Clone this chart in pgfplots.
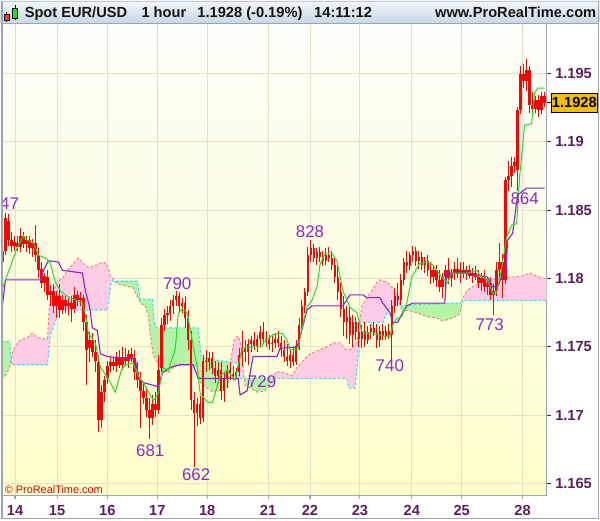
\documentclass[border=0pt]{standalone}
\usepackage{fontspec}
\setmainfont{Liberation Sans}
\usepackage{pgfplots}
\usepackage{pgfplotstable}
\pgfplotsset{compat=1.18}

\definecolor{HdrTop}{HTML}{F2F6FA}
\definecolor{HdrBot}{HTML}{C8D8E6}
\definecolor{HdrTxt}{HTML}{141414}
\definecolor{BgTop}{HTML}{FEFEFA}
\definecolor{BgBot}{HTML}{FFFFCC}
\definecolor{GridC}{HTML}{E2E2C6}
\definecolor{FrameC}{HTML}{9AA6B2}
\definecolor{LabC}{HTML}{5B1F5E}
\definecolor{CandleR}{HTML}{FF0000}
\definecolor{TenkanG}{HTML}{22DD22}
\definecolor{KijunP}{HTML}{9420CC}
\definecolor{CloudP}{HTML}{FFCCE6}
\definecolor{CloudG}{HTML}{B2F5A6}
\definecolor{SpanAC}{HTML}{F08A80}
\definecolor{SpanBC}{HTML}{33DDFF}
\definecolor{SwingC}{HTML}{8A2BD0}
\definecolor{PriceY}{HTML}{F5C000}
\definecolor{CopyR}{HTML}{E00000}

% hourly candles: x = bar position, o h l c
\pgfplotstableread{
x o h l c
2 1.1812 1.1822 1.1806 1.1820
5 1.1820 1.1848 1.1817 1.1844
8 1.1842 1.1847 1.1824 1.1828
11 1.1828 1.1834 1.1819 1.1824
14 1.1824 1.1831 1.1820 1.1827
17 1.1826 1.1831 1.1820 1.1823
20 1.1823 1.1837 1.1819 1.1831
23 1.1831 1.1834 1.1822 1.1825
26 1.1825 1.1831 1.1819 1.1828
29 1.1828 1.1831 1.1818 1.1822
32 1.1822 1.1829 1.1816 1.1826
35 1.1826 1.1839 1.1812 1.1817
38 1.1817 1.1822 1.1800 1.1806
41 1.1807 1.1812 1.1793 1.1797
44 1.1797 1.1804 1.1790 1.1802
47 1.1801 1.1806 1.1784 1.1788
50 1.1788 1.1795 1.1780 1.1791
53 1.1791 1.1796 1.1775 1.1780
56 1.1780 1.1791 1.1771 1.1787
59 1.1787 1.1796 1.1771 1.1777
62 1.1777 1.1788 1.1774 1.1784
65 1.1784 1.1787 1.1775 1.1780
68 1.1780 1.1786 1.1773 1.1782
71 1.1782 1.1787 1.1768 1.1778
74 1.1778 1.1794 1.1775 1.1788
77 1.1788 1.1791 1.1780 1.1784
80 1.1784 1.1790 1.1780 1.1786
83 1.1786 1.1788 1.1762 1.1768
86 1.1768 1.1773 1.1722 1.1748
89 1.1749 1.1761 1.1739 1.1755
92 1.1755 1.1760 1.1743 1.1746
95 1.1746 1.1755 1.1732 1.1740
98 1.1739 1.1744 1.1688 1.1697
101 1.1697 1.1722 1.1691 1.1717
104 1.1717 1.1729 1.1710 1.1726
107 1.1727 1.1740 1.1723 1.1736
110 1.1736 1.1743 1.1732 1.1739
113 1.1739 1.1743 1.1733 1.1736
116 1.1736 1.1746 1.1732 1.1742
119 1.1742 1.1748 1.1735 1.1737
122 1.1737 1.1750 1.1733 1.1743
125 1.1743 1.1749 1.1736 1.1740
128 1.1740 1.1748 1.1735 1.1745
131 1.1745 1.1749 1.1739 1.1742
134 1.1742 1.1748 1.1726 1.1732
137 1.1732 1.1739 1.1720 1.1726
140 1.1726 1.1732 1.1691 1.1718
143 1.1718 1.1724 1.1708 1.1713
146 1.1713 1.1721 1.1699 1.1704
149 1.1704 1.1713 1.1683 1.1698
152 1.1698 1.1715 1.1693 1.1708
155 1.1708 1.1717 1.1699 1.1704
158 1.1704 1.1744 1.1701 1.1733
161 1.1735 1.1771 1.1732 1.1766
164 1.1766 1.1778 1.1762 1.1773
167 1.1773 1.1780 1.1767 1.1775
170 1.1775 1.1784 1.1769 1.1780
173 1.1780 1.1788 1.1774 1.1784
176 1.1784 1.1791 1.1780 1.1787
179 1.1787 1.1790 1.1775 1.1780
182 1.1780 1.1786 1.1775 1.1782
185 1.1782 1.1787 1.1764 1.1771
188 1.1771 1.1777 1.1748 1.1755
191 1.1755 1.1762 1.1704 1.1711
194 1.1711 1.1717 1.1662 1.1702
197 1.1702 1.1713 1.1692 1.1708
200 1.1708 1.1714 1.1694 1.1698
203 1.1698 1.1744 1.1695 1.1740
206 1.1740 1.1748 1.1732 1.1739
209 1.1739 1.1746 1.1733 1.1742
212 1.1742 1.1746 1.1730 1.1735
215 1.1735 1.1740 1.1724 1.1729
218 1.1729 1.1739 1.1723 1.1733
221 1.1733 1.1739 1.1711 1.1718
224 1.1718 1.1732 1.1710 1.1727
227 1.1727 1.1737 1.1720 1.1733
230 1.1733 1.1739 1.1726 1.1730
233 1.1730 1.1736 1.1726 1.1729
236 1.1729 1.1735 1.1727 1.1732
239 1.1732 1.1749 1.1729 1.1744
242 1.1744 1.1762 1.1736 1.1749
245 1.1749 1.1755 1.1739 1.1746
248 1.1746 1.1756 1.1737 1.1752
251 1.1752 1.1758 1.1746 1.1755
254 1.1755 1.1761 1.1748 1.1751
257 1.1751 1.1759 1.1746 1.1756
260 1.1756 1.1765 1.1750 1.1761
263 1.1761 1.1768 1.1752 1.1756
266 1.1756 1.1762 1.1750 1.1755
269 1.1755 1.1759 1.1748 1.1752
272 1.1752 1.1758 1.1746 1.1753
275 1.1753 1.1760 1.1749 1.1756
278 1.1756 1.1762 1.1750 1.1753
281 1.1753 1.1758 1.1743 1.1748
284 1.1748 1.1755 1.1739 1.1743
287 1.1743 1.1752 1.1736 1.1740
290 1.1740 1.1748 1.1735 1.1744
293 1.1744 1.1749 1.1736 1.1739
296 1.1739 1.1755 1.1737 1.1751
299 1.1751 1.1771 1.1748 1.1766
302 1.1766 1.1784 1.1762 1.1780
305 1.1780 1.1793 1.1775 1.1790
308 1.1790 1.1823 1.1787 1.1817
311 1.1817 1.1828 1.1812 1.1822
314 1.1822 1.1825 1.1812 1.1815
317 1.1815 1.1822 1.1810 1.1819
320 1.1819 1.1823 1.1812 1.1816
323 1.1816 1.1820 1.1809 1.1813
326 1.1813 1.1822 1.1810 1.1817
329 1.1817 1.1823 1.1812 1.1815
332 1.1815 1.1820 1.1806 1.1810
335 1.1810 1.1816 1.1797 1.1801
338 1.1801 1.1809 1.1784 1.1790
341 1.1790 1.1797 1.1772 1.1778
344 1.1778 1.1787 1.1758 1.1768
347 1.1768 1.1780 1.1756 1.1772
350 1.1772 1.1780 1.1752 1.1759
353 1.1759 1.1773 1.1750 1.1768
356 1.1768 1.1772 1.1755 1.1761
359 1.1761 1.1768 1.1750 1.1756
362 1.1756 1.1766 1.1749 1.1762
365 1.1762 1.1768 1.1750 1.1755
368 1.1755 1.1765 1.1752 1.1761
371 1.1761 1.1767 1.1756 1.1764
374 1.1764 1.1768 1.1758 1.1760
377 1.1760 1.1767 1.1749 1.1755
380 1.1755 1.1765 1.1750 1.1762
383 1.1762 1.1767 1.1755 1.1758
386 1.1758 1.1765 1.1755 1.1762
389 1.1762 1.1767 1.1756 1.1759
392 1.1759 1.1784 1.1740 1.1780
395 1.1780 1.1793 1.1775 1.1787
398 1.1787 1.1797 1.1780 1.1784
401 1.1784 1.1803 1.1781 1.1799
404 1.1799 1.1815 1.1795 1.1812
407 1.1812 1.1820 1.1804 1.1809
410 1.1809 1.1819 1.1806 1.1817
413 1.1817 1.1824 1.1812 1.1820
416 1.1820 1.1823 1.1809 1.1813
419 1.1813 1.1820 1.1807 1.1816
422 1.1816 1.1819 1.1806 1.1810
425 1.1810 1.1816 1.1804 1.1813
428 1.1813 1.1817 1.1802 1.1806
431 1.1806 1.1812 1.1796 1.1801
434 1.1801 1.1809 1.1797 1.1806
437 1.1806 1.1810 1.1794 1.1799
440 1.1799 1.1806 1.1790 1.1794
443 1.1794 1.1804 1.1786 1.1801
446 1.1801 1.1810 1.1791 1.1806
449 1.1806 1.1815 1.1796 1.1800
452 1.1800 1.1807 1.1794 1.1804
455 1.1804 1.1812 1.1799 1.1807
458 1.1807 1.1815 1.1800 1.1803
461 1.1803 1.1812 1.1797 1.1806
464 1.1806 1.1812 1.1800 1.1803
467 1.1803 1.1809 1.1799 1.1806
470 1.1806 1.1810 1.1800 1.1802
473 1.1802 1.1808 1.1797 1.1804
476 1.1804 1.1809 1.1799 1.1801
479 1.1801 1.1806 1.1793 1.1797
482 1.1797 1.1804 1.1791 1.1800
485 1.1800 1.1806 1.1790 1.1794
488 1.1794 1.1801 1.1788 1.1797
491 1.1797 1.1801 1.1784 1.1788
494 1.1788 1.1796 1.1773 1.1791
497 1.1791 1.1812 1.1787 1.1806
500 1.1806 1.1826 1.1796 1.1812
503 1.1812 1.1818 1.1786 1.1799
506 1.1799 1.1874 1.1796 1.1872
509 1.1872 1.1886 1.1864 1.1875
512 1.1875 1.1889 1.1867 1.1882
515 1.1882 1.1889 1.1877 1.1885
518 1.1879 1.1925 1.1864 1.1923
521 1.1923 1.1955 1.1920 1.1949
524 1.1949 1.1957 1.1939 1.1944
527 1.1944 1.1960 1.1937 1.1952
530 1.1952 1.1955 1.1921 1.1927
533 1.1927 1.1936 1.1920 1.1924
536 1.1924 1.1933 1.1921 1.1930
539 1.1930 1.1934 1.1918 1.1923
542 1.1923 1.1936 1.1920 1.1933
545 1.1933 1.1936 1.1925 1.1928
}\candles

% leading span A (wavy) and span B (flat)
\pgfplotstableread{
x y
1 1.1727
5 1.1729
9 1.1735
12 1.1746
15 1.1751
20 1.1755
27 1.1757
32 1.1760
37 1.1757
43 1.1756
47 1.1756
49 1.1780
53 1.1791
57 1.1798
62 1.1800
67 1.1806
73 1.1811
78 1.1815
83 1.1811
88 1.1808
97 1.1810
103 1.1812
107 1.1810
110 1.1802
117 1.1796
123 1.1795
133 1.1793
140 1.1782
145 1.1780
148 1.1773
150 1.1759
153 1.1744
160 1.1735
168 1.1731
175 1.1737
190 1.1737
197 1.1735
200 1.1724
207 1.1720
213 1.1717
220 1.1718
228 1.1721
231 1.1742
234 1.1755
238 1.1758
241 1.1751
243 1.1733
245 1.1722
250 1.1720
257 1.1717
265 1.1718
270 1.1722
276 1.1732
285 1.1731
292 1.1729
297 1.1735
307 1.1743
313 1.1746
320 1.1748
327 1.1750
333 1.1753
340 1.1753
346 1.1748
350 1.1748
357 1.1753
362 1.1780
370 1.1789
377 1.1797
380 1.1799
388 1.1797
393 1.1793
397 1.1788
400 1.1782
403 1.1775
407 1.1777
417 1.1775
427 1.1772
437 1.1771
443 1.1769
453 1.1771
460 1.1774
464 1.1787
467 1.1791
473 1.1794
480 1.1797
490 1.1799
500 1.1800
513 1.1801
523 1.1802
530 1.1804
540 1.1801
547 1.1800
}\spanA

\pgfplotstableread{
x y
1 1.1754
9 1.1754
11 1.1737
47 1.1737
50 1.1759
55 1.1769
60 1.1777
107 1.1777
111 1.1798
137 1.1798
140 1.1785
152 1.1785
154 1.1768
156 1.1764
198 1.1764
201 1.1742
230 1.1739
237 1.1738
239 1.1727
347 1.1727
349 1.1720
355 1.1720
359 1.1748
361 1.1768
383 1.1768
387 1.1775
392 1.1780
407 1.1780
413 1.1781
460 1.1782
465 1.1784
547 1.1784
}\spanB

\begin{document}
\begin{tikzpicture}
\fill[white] (-0.75pt,-18pt) rectangle (449.25pt,371.25pt);
\shade[top color=HdrTop,bottom color=HdrBot] (-0.75pt,354.75pt) rectangle (449.25pt,371.25pt);

\begin{axis}[
  scale only axis,
  width=409.5pt, height=354pt,
  at={(0,0)}, anchor=south west,
  xmin=1, xmax=547,
  ymin=1.16418, ymax=1.19859,
  axis background/.style={top color=BgTop, bottom color=BgBot},
  grid=major,
  grid style={draw=GridC, line width=0.7pt},
  xtick={14.5,56.7,107,157,207,268,310,360,412,462,523},
  xticklabels={14,15,16,17,18,21,22,23,24,25,28},
  ytick={1.165,1.17,1.175,1.18,1.185,1.19,1.195},
  yticklabels={1.165,1.17,1.175,1.18,1.185,1.19,1.195},
  yticklabel pos=right, ytick pos=right,
  xtick pos=bottom,
  tick align=outside,
  major tick length=3pt,
  xtick style={draw=FrameC, line width=0.8pt},
  ytick style={draw=LabC, line width=0.8pt},
  ticklabel style={font=\bfseries\fontsize{11}{13}\selectfont, text=LabC},
  xticklabel style={yshift=-1pt},
  axis line style={draw=FrameC, line width=0.8pt},
]
% cloud: pieces between span A and span B, split where they cross
\addplot[fill=CloudG, draw=none, forget plot] coordinates {
(1,1.1727) (5,1.1729) (9,1.1735) (10.6,1.1741) (9,1.1754) (1,1.1754)} -- cycle;
\addplot[fill=CloudP, draw=none, forget plot] coordinates {
(10.6,1.1741) (12,1.1746) (15,1.1751) (20,1.1755) (27,1.1757) (32,1.1760) (37,1.1757)
(43,1.1756) (47,1.1756) (49,1.1780) (53,1.1791) (57,1.1798) (62,1.1800) (67,1.1806)
(73,1.1811) (78,1.1815) (83,1.1811) (88,1.1808) (97,1.1810) (103,1.1812) (107,1.1810)
(110,1.1802) (114.7,1.1798) (111,1.1798) (107,1.1777) (60,1.1777) (55,1.1769)
(50,1.1759) (47,1.1737) (11,1.1737)} -- cycle;
\addplot[fill=CloudG, draw=none, forget plot] coordinates {
(114.7,1.1798) (117,1.1796) (123,1.1795) (133,1.1793) (140,1.1782) (145,1.1780)
(148,1.1773) (150,1.1759) (153,1.1744) (160,1.1735) (168,1.1731) (175,1.1737)
(190,1.1737) (197,1.1735) (200,1.1724) (207,1.1720) (213,1.1717) (220,1.1718)
(228,1.1721) (230.6,1.1739) (230,1.1739) (201,1.1742) (198,1.1764) (156,1.1764)
(154,1.1768) (152,1.1785) (140,1.1785) (137,1.1798)} -- cycle;
\addplot[fill=CloudP, draw=none, forget plot] coordinates {
(230.6,1.1739) (231,1.1742) (234,1.1755) (238,1.1758) (241,1.1751) (243,1.1733)
(244.1,1.1727) (239,1.1727) (237,1.1738)} -- cycle;
\addplot[fill=CloudG, draw=none, forget plot] coordinates {
(244.1,1.1727) (245,1.1722) (250,1.1720) (257,1.1717) (265,1.1718) (270,1.1722)
(273,1.1727)} -- cycle;
\addplot[fill=CloudP, draw=none, forget plot] coordinates {
(273,1.1727) (276,1.1732) (285,1.1731) (292,1.1729) (297,1.1735) (307,1.1743)
(313,1.1746) (320,1.1748) (327,1.1750) (333,1.1753) (340,1.1753) (346,1.1748)
(350,1.1748) (357,1.1753) (362,1.1780) (370,1.1789) (377,1.1797) (380,1.1799)
(388,1.1797) (393,1.1793) (397,1.1788) (400,1.1782) (400.9,1.1780) (392,1.1780)
(387,1.1775) (383,1.1768) (361,1.1768) (359,1.1748) (355,1.1720) (349,1.1720)
(347,1.1727)} -- cycle;
\addplot[fill=CloudG, draw=none, forget plot] coordinates {
(400.9,1.1780) (403,1.1775) (407,1.1777) (417,1.1775) (427,1.1772) (437,1.1771)
(443,1.1769) (453,1.1771) (460,1.1774) (462.8,1.1783) (460,1.1782) (413,1.1781)
(407,1.1780)} -- cycle;
\addplot[fill=CloudP, draw=none, forget plot] coordinates {
(462.8,1.1783) (464,1.1787) (467,1.1791) (473,1.1794) (480,1.1797) (490,1.1799)
(500,1.1800) (513,1.1801) (523,1.1802) (530,1.1804) (540,1.1801) (547,1.1800)
(547,1.1784) (465,1.1784)} -- cycle;
\addplot[draw=SpanAC, line width=0.8pt, dash pattern=on 2pt off 1.5pt, forget plot] table[x=x,y=y] {\spanA};
\addplot[draw=SpanBC, line width=0.8pt, dash pattern=on 2pt off 1.5pt, forget plot] table[x=x,y=y] {\spanB};

% candles: wick then body
\addplot[draw=none, mark=none, forget plot,
  error bars/.cd, y dir=plus, y explicit, error mark=none,
  error bar style={draw=CandleR, line width=0.75pt}]
  table[x=x, y=l, y error expr={\thisrow{h}-\thisrow{l}}] {\candles};
\addplot[draw=none, mark=none, forget plot,
  error bars/.cd, y dir=plus, y explicit, error mark=none,
  error bar style={draw=CandleR, line width=1.9pt}]
  table[x=x, y expr={min(\thisrow{o},\thisrow{c})}, y error expr={abs(\thisrow{c}-\thisrow{o})}] {\candles};

% kijun
\addplot[draw=KijunP, line width=0.85pt, mark=none] coordinates {
(1,1.1775) (5,1.1799) (40,1.1799) (43,1.1806) (48,1.1813) (58,1.1812) (62,1.1806)
(82,1.1804) (85,1.1791) (89,1.1780) (92,1.1764) (97,1.1762) (100,1.1745) (107,1.1743)
(135,1.1741) (138,1.1728) (143,1.1724) (158,1.1721) (162,1.1731) (170,1.1735) (180,1.1737)
(193,1.1737) (198,1.1727) (238,1.1727) (240,1.1715) (247,1.1718) (253,1.1743) (277,1.1743)
(280,1.1749) (297,1.1750) (300,1.1757) (307,1.1777) (312,1.1780) (343,1.1780) (350,1.1788)
(363,1.1788) (367,1.1786) (380,1.1786) (383,1.1782) (390,1.1775) (393,1.1768) (398,1.1768)
(402,1.1774) (407,1.1780) (413,1.1782) (445,1.1782) (447,1.1804) (467,1.1804) (470,1.1803)
(488,1.1801) (492,1.1794) (498,1.1794) (502,1.1801) (506,1.1801) (508,1.1828) (513,1.1833)
(518,1.1861) (527,1.1866) (545,1.1866)
};
% tenkan
\addplot[draw=TenkanG, line width=0.75pt, mark=none] coordinates {
(2,1.1793) (5,1.1799) (13,1.1815) (17,1.1823) (23,1.1831) (27,1.1828) (33,1.1826)
(38,1.1817) (45,1.1815) (50,1.1811) (55,1.1797) (60,1.1791) (65,1.1788) (70,1.1786)
(82,1.1782) (85,1.1774) (88,1.1760) (95,1.1753) (100,1.1735) (107,1.1728) (110,1.1724)
(115,1.1717) (121,1.1733) (125,1.1737) (133,1.1738) (138,1.1729) (143,1.1724) (153,1.1711)
(158,1.1716) (163,1.1735) (168,1.1733) (175,1.1748) (178,1.1774) (182,1.1778) (187,1.1775)
(192,1.1755) (197,1.1735) (200,1.1716) (207,1.1710) (212,1.1709) (215,1.1716) (220,1.1729)
(227,1.1733) (235,1.1726) (242,1.1749) (255,1.1750) (262,1.1750) (263,1.1753) (273,1.1759)
(282,1.1760) (287,1.1755) (290,1.1748) (298,1.1748) (302,1.1764) (307,1.1779) (312,1.1784)
(317,1.1794) (320,1.1810) (325,1.1818) (332,1.1818) (337,1.1813) (343,1.1791) (350,1.1779)
(357,1.1775) (362,1.1761) (367,1.1760) (377,1.1759) (390,1.1757) (393,1.1766) (397,1.1771)
(402,1.1772) (407,1.1782) (412,1.1801) (420,1.1811) (427,1.1812) (433,1.1810) (443,1.1800)
(448,1.1797) (452,1.1804) (468,1.1804) (477,1.1806) (482,1.1801) (488,1.1799) (493,1.1789)
(497,1.1790) (500,1.1799) (507,1.1830) (512,1.1839) (517,1.1840) (520,1.1874) (525,1.1912)
(532,1.1913) (535,1.1935) (538,1.1939) (545,1.1939)
};

% swing labels
\node[font=\fontsize{12.7}{14}\selectfont, text=SwingC, inner sep=0pt] at (axis cs:9,1.1855) {47};
\node[font=\fontsize{12.7}{14}\selectfont, text=SwingC, inner sep=0pt] at (axis cs:177,1.1796) {790};
\node[font=\fontsize{12.7}{14}\selectfont, text=SwingC, inner sep=0pt] at (axis cs:150,1.1674) {681};
\node[font=\fontsize{12.7}{14}\selectfont, text=SwingC, inner sep=0pt] at (axis cs:196,1.1657) {662};
\node[font=\fontsize{12.7}{14}\selectfont, text=SwingC, inner sep=0pt] at (axis cs:262,1.1725) {729};
\node[font=\fontsize{12.7}{14}\selectfont, text=SwingC, inner sep=0pt] at (axis cs:310,1.1834) {828};
\node[font=\fontsize{12.7}{14}\selectfont, text=SwingC, inner sep=0pt] at (axis cs:390,1.1736) {740};
\node[font=\fontsize{12.7}{14}\selectfont, text=SwingC, inner sep=0pt] at (axis cs:490,1.1766) {773};
\node[font=\fontsize{12.7}{14}\selectfont, text=SwingC, inner sep=0pt] at (axis cs:525,1.1858) {864};
\end{axis}

% header, price box, frame (pixel grid of the picture)
\begin{scope}[shift={(-0.75pt,371.25pt)}, x=0.75pt, y=-0.75pt]
  \draw[FrameC, line width=0.8pt] (0,22.5) -- (600,22.5);
  % icon
  \draw[HdrTxt, line width=0.4pt] (6,11) -- (6,21);
  \filldraw[fill=red!80, draw=HdrTxt, line width=0.4pt] (4,13) rectangle (8.5,19.5);
  \draw[HdrTxt, line width=0.4pt] (14.5,4) -- (14.5,19);
  \filldraw[fill=TenkanG, draw=HdrTxt, line width=0.4pt] (12,7.5) rectangle (17,17.5);
  \node[font=\bfseries\fontsize{11}{13}\selectfont, text=HdrTxt, inner sep=0pt, anchor=base west] at (24,17) {Spot EUR/USD};
  \node[font=\bfseries\fontsize{11}{13}\selectfont, text=HdrTxt, inner sep=0pt, anchor=base west] at (141,17) {1 hour};
  \node[font=\bfseries\fontsize{11}{13}\selectfont, text=HdrTxt, inner sep=0pt, anchor=base west] at (197,17) {1.1928 (-0.19\%)};
  \node[font=\bfseries\fontsize{11}{13}\selectfont, text=HdrTxt, inner sep=0pt, anchor=base west] at (314,17) {14:11:12};
  \node[font=\bfseries\fontsize{11}{13}\selectfont, text=HdrTxt, inner sep=0pt, anchor=base east] at (597,17) {www.ProRealTime.com};
  % last price marker
  \draw[HdrTxt, line width=0.8pt] (547,102) -- (552,102);
  \node[fill=PriceY, draw=black, line width=0.5pt, inner sep=0pt,
        minimum width=34.5pt, minimum height=14.5pt, anchor=west,
        font=\bfseries\fontsize{11}{13}\selectfont, text=black] at (551.5,102) {1.1928};
  % copyright
  \node[anchor=base west, inner sep=0pt, font=\fontsize{8.2}{10}\selectfont, text=CopyR] at (4,493) {\textcopyright{} ProRealTime.com};
  % outer frame
  \draw[FrameC, line width=1.5pt] (1,0) -- (1,519);
  \draw[FrameC, line width=0.8pt] (599.2,0) -- (599.2,519);
  \draw[FrameC, line width=0.8pt] (0,518) -- (600,518);
  \draw[FrameC!60, line width=0.6pt] (0,0.6) -- (600,0.6);
\end{scope}
\end{tikzpicture}
\end{document}
